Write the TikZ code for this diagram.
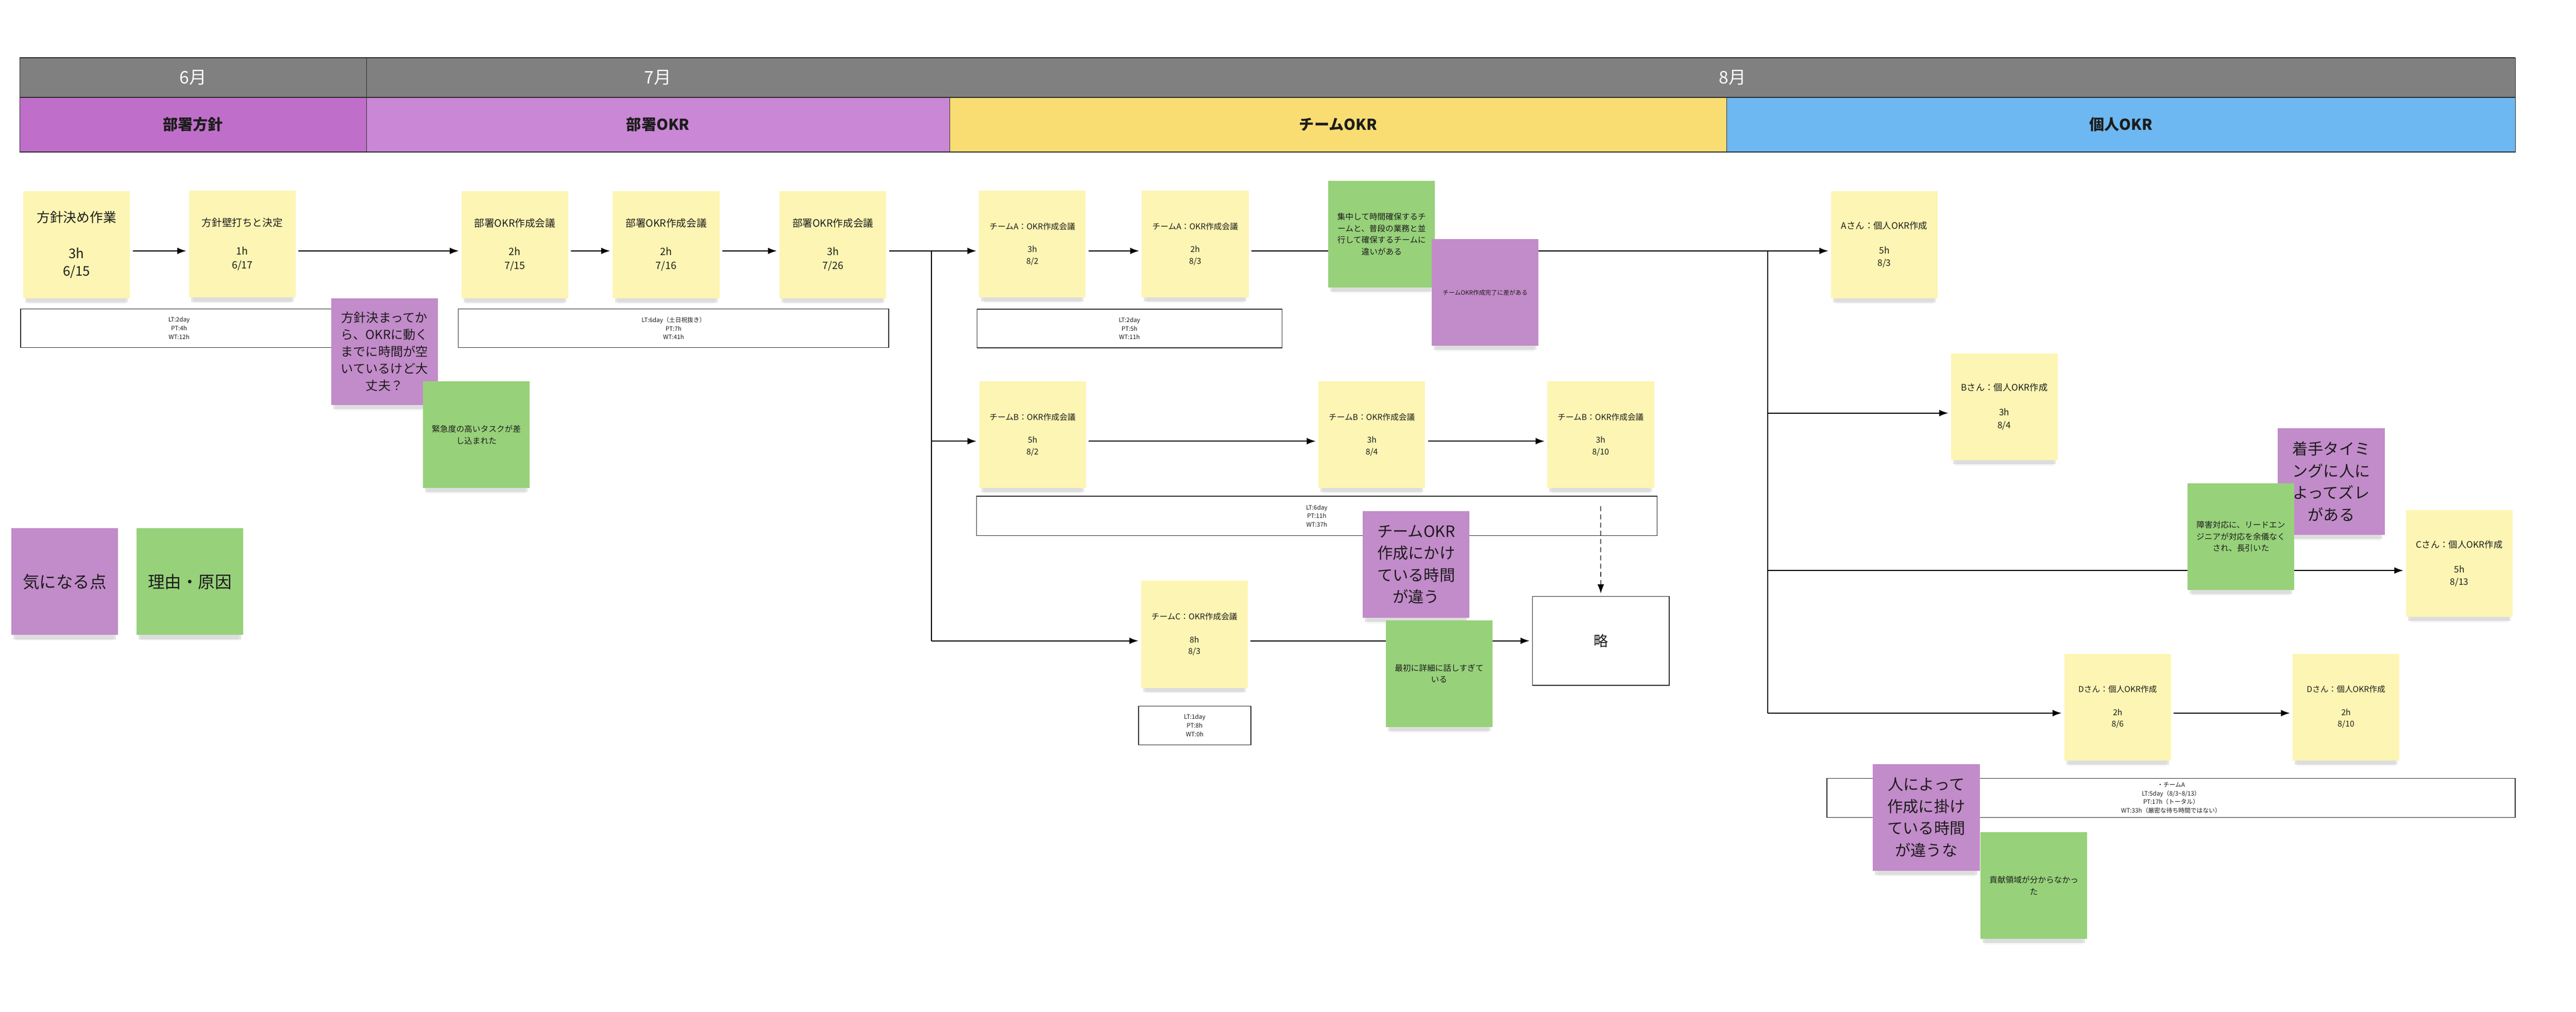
\documentclass[tikz,border=0pt]{standalone}
\usepackage{fontspec}
\setmainfont{Noto Sans CJK JP}
\usetikzlibrary{arrows.meta,shadows}
\definecolor{stickyyellow}{HTML}{FDF5B3}
\definecolor{stickygreen}{HTML}{97D17A}
\definecolor{stickypurple}{HTML}{C28BC9}
\definecolor{headgray}{HTML}{808080}
\definecolor{hoshinpurple}{HTML}{BF6FC9}
\definecolor{okrpurple}{HTML}{C987D5}
\definecolor{teamyellow}{HTML}{F9DD72}
\definecolor{kojinblue}{HTML}{6DB8F2}
\definecolor{edge}{HTML}{2B2B2B}
\definecolor{ink}{HTML}{1C1C1C}

\begin{document}
\begin{tikzpicture}[x=1mm, y=-1mm,
    note/.style={fill=stickyyellow, minimum width=65mm, minimum height=65mm, inner sep=0pt, align=center, text=ink,
        drop shadow={shadow xshift=0mm, shadow yshift=-6.5mm, shadow scale=0.92, opacity=0.08},
        drop shadow={shadow xshift=0mm, shadow yshift=-4mm, shadow scale=0.96, opacity=0.2}},
    kinaru/.style={note, fill=stickypurple},
    riyu/.style={note, fill=stickygreen},
    ltbox/.style={draw=edge, line width=0.45mm, fill=white, inner sep=0pt, align=center, minimum height=23.6mm, text=ink, font=\fontsize{10.5}{15}\selectfont},
    monthcell/.style={fill=headgray, text=white, inner sep=0pt, minimum height=24.2mm, font=\fontsize{30}{36}\selectfont},
    catcell/.style={draw=edge, line width=0.3mm, inner sep=0pt, minimum height=32.9mm, text=ink, font=\bfseries\fontsize{26}{30}\selectfont},
    arr/.style={line width=0.7mm, -{Latex[length=5.5mm, width=4mm]}, shorten <=1.6mm, shorten >=1.5mm},
    arrj/.style={arr, shorten <=0mm},
    f14/.style={font=\fontsize{14}{20}\selectfont},
    f155/.style={font=\fontsize{15.5}{21.5}\selectfont},
    f175/.style={font=\fontsize{17.5}{24}\selectfont},
    big/.style={font=\fontsize{27}{38}\selectfont}]

    \fill[white] (0,0) rectangle (1568,615.7);
    \useasboundingbox (0,0) rectangle (1568,615.7);

    \node[monthcell, minimum width=211mm] (m6) at (117.5,47.3) {6月};
    \node[monthcell, minimum width=355mm] (m7) at (400.5,47.3) {7月};
    \node[monthcell, minimum width=953mm] (m8) at (1054.5,47.3) {8月};
    \node[catcell, fill=hoshinpurple, minimum width=211mm] (c1) at (117.5,75.85) {部署方針};
    \node[catcell, fill=okrpurple, minimum width=355mm] (c2) at (400.5,75.85) {部署OKR};
    \node[catcell, fill=teamyellow, minimum width=473mm] (c3) at (814.5,75.85) {チームOKR};
    \node[catcell, fill=kojinblue, minimum width=480mm] (c4) at (1291,75.85) {個人OKR};
    \draw[edge, line width=0.3mm] (m6.north east) -- (m6.south east);
    \draw[edge, line width=0.3mm] (m6.north west) -- (m6.south west);
    \draw[edge, line width=0.3mm] (m8.north east) -- (m8.south east);
    \draw[edge, line width=0.6mm] (m6.north west) -- (m8.north east);
    \draw[edge, line width=0.6mm] (c1.north west) -- (c4.north east);
    \draw[edge, line width=0.6mm] (c1.south west) -- (c4.south east);

    \node[note, font=\fontsize{23}{31}\selectfont] (hs1) at (46.6,149) {方針決め作業\\[11mm]3h\\6/15};
    \node[note, f175] (hs2) at (147.5,148.6) {方針壁打ちと決定\\[9mm]1h\\6/17};
    \node[note, f175] (bo1) at (313.4,149) {部署OKR作成会議\\[9mm]2h\\7/15};
    \node[note, f175] (bo2) at (405.5,149) {部署OKR作成会議\\[9mm]2h\\7/16};
    \node[note, f175] (bo3) at (507,149) {部署OKR作成会議\\[9mm]3h\\7/26};
    \node[note, f14] (ta1) at (628.4,148.5) {チームA：OKR作成会議\\[7mm]3h\\8/2};
    \node[note, f14] (ta2) at (727.5,148.5) {チームA：OKR作成会議\\[7mm]2h\\8/3};
    \node[note, f14] (tb1) at (628.5,264.5) {チームB：OKR作成会議\\[7mm]5h\\8/2};
    \node[note, f14] (tb2) at (835,264.5) {チームB：OKR作成会議\\[7mm]3h\\8/4};
    \node[note, f14] (tb3) at (974.3,264.5) {チームB：OKR作成会議\\[7mm]3h\\8/10};
    \node[note, f14] (tc1) at (727,386) {チームC：OKR作成会議\\[7mm]8h\\8/3};
    \node[note, f155] (pa) at (1147,149) {Aさん：個人OKR作成\\[7.5mm]5h\\8/3};
    \node[note, f155] (pb) at (1220,247.5) {Bさん：個人OKR作成\\[7.5mm]3h\\8/4};
    \node[note, f155] (pc) at (1497,343) {Cさん：個人OKR作成\\[7.5mm]5h\\8/13};
    \node[note, f14] (pd1) at (1289,430.3) {Dさん：個人OKR作成\\[7mm]2h\\8/6};
    \node[note, f14] (pd2) at (1428,430.3) {Dさん：個人OKR作成\\[7mm]2h\\8/10};
    \node[draw=edge, line width=0.45mm, fill=white, minimum width=83.3mm, minimum height=54.2mm, font=\fontsize{25}{30}\selectfont, text=ink] (ryaku) at (974.4,390) {略};

    \node[ltbox, minimum width=193mm] (lt1) at (109,199.8) {LT:2day\\PT:4h\\WT:12h};
    \node[ltbox, minimum width=262mm] (lt2) at (410,199.8) {LT:6day（土日祝抜き）\\PT:7h\\WT:41h};
    \node[ltbox, minimum width=185.7mm] (lt3) at (687.5,199.9) {LT:2day\\PT:5h\\WT:11h};
    \node[ltbox, minimum width=414.2mm, minimum height=24mm] (lt4) at (801.5,314) {LT:6day\\PT:11h\\WT:37h};
    \node[ltbox, minimum width=68.4mm] (lt5) at (727.2,441.5) {LT:1day\\PT:8h\\WT:0h};
    \node[ltbox, minimum width=419mm, minimum height=23.8mm] (lt6) at (1321.5,485.6) {・チームA\\LT:5day（8/3\textasciitilde 8/13）\\PT:17h（トータル）\\WT:33h（厳密な待ち時間ではない）};

    \coordinate (j1) at (567,152.7);
    \coordinate (j1e) at (567,390);
    \coordinate (j2) at (1076,152.7);
    \coordinate (j2e) at (1076,434);
    \coordinate (rowb) at (0,268.5);
    \coordinate (rowpb) at (0,251.4);
    \coordinate (rowpc) at (0,347.2);

    \draw[arr] (hs1.east |- j1) -- (hs2.west |- j1);
    \draw[arr] (hs2.east |- j1) -- (bo1.west |- j1);
    \draw[arr] (bo1.east |- j1) -- (bo2.west |- j1);
    \draw[arr] (bo2.east |- j1) -- (bo3.west |- j1);
    \draw[arr] (bo3.east |- j1) -- (ta1.west |- j1);
    \draw[arr] (ta1.east |- j1) -- (ta2.west |- j1);
    \draw[arr] (ta2.east |- j1) -- (pa.west |- j1);
    \draw[line width=0.7mm] (j1) -- (j1e);
    \draw[arrj] (j1 |- rowb) -- (tb1.west |- rowb);
    \draw[arr] (tb1.east |- rowb) -- (tb2.west |- rowb);
    \draw[arr] (tb2.east |- rowb) -- (tb3.west |- rowb);
    \draw[arrj] (j1e) -- (tc1.west |- j1e);
    \draw[arr] (tc1.east |- j1e) -- (ryaku.west);
    \draw[arr, line width=0.4mm, dash pattern=on 3mm off 2mm, shorten <=11mm] (tb3.south) -- (ryaku.north);
    \draw[line width=0.7mm] (j2) -- (j2e);
    \draw[arrj] (j2 |- rowpb) -- (pb.west |- rowpb);
    \draw[arrj] (j2 |- rowpc) -- (pc.west |- rowpc);
    \draw[arrj] (j2e) -- (pd1.west |- j2e);
    \draw[arr] (pd1.east |- j2e) -- (pd2.west |- j2e);

    \node[kinaru, font=\fontsize{21.6}{29.6}\selectfont] (k1) at (234,214) {方針決まってか\\ら、OKRに動く\\までに時間が空\\いているけど大\\丈夫？};
    \node[riyu, f14] (r1) at (290,264.6) {緊急度の高いタスクが差\\し込まれた};
    \node[riyu, f14] (r2) at (841,142.5) {集中して時間確保するチ\\ームと、普段の業務と並\\行して確保するチームに\\違いがある};
    \node[kinaru, font=\fontsize{10.5}{14}\selectfont] (k2) at (904,178) {チームOKR作成完了に差がある};
    \node[kinaru, big] (k3) at (862,343.5) {チームOKR\\作成にかけ\\ている時間\\が違う};
    \node[riyu, f14] (r3) at (876,410) {最初に詳細に話しすぎて\\いる};
    \node[kinaru, big] (k4) at (1419,293) {着手タイミ\\ングに人に\\よってズレ\\がある};
    \node[riyu, f14] (r4) at (1364,326.5) {障害対応に、リードエン\\ジニアが対応を余儀なく\\され、長引いた};
    \node[kinaru, big] (k5) at (1172.5,497.5) {人によって\\作成に掛け\\ている時間\\が違うな};
    \node[riyu, f14] (r5) at (1238,539) {貢献領域が分からなかっ\\た};

    \node[kinaru, font=\fontsize{29}{34}\selectfont] (k0) at (39.3,354) {気になる点};
    \node[riyu, font=\fontsize{29}{34}\selectfont] (r0) at (115.5,354) {理由・原因};
\end{tikzpicture}
\end{document}
